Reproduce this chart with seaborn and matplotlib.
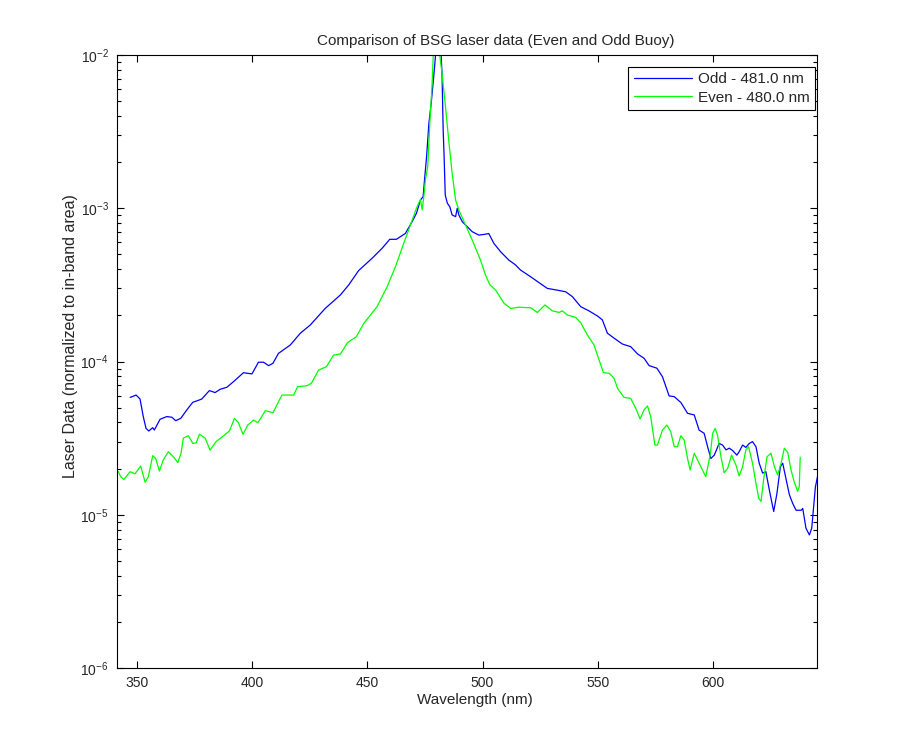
import matplotlib
matplotlib.use("Agg")
import matplotlib.pyplot as plt
import seaborn as sns
import pandas as pd
from matplotlib.ticker import LogLocator, LogFormatterMathtext, NullFormatter

# Odd buoy (481.0 nm) - wavelength (nm) and normalized laser data
odd_wl = [347.0, 349.6, 351.3, 352.7, 353.9, 355.1, 356.8, 357.5, 360.0, 362.9,
          365.1, 366.8, 369.0, 371.6, 374.2, 376.2, 378.1, 381.4, 383.9, 386.1,
          389.0, 392.2, 396.2, 399.9, 402.7, 404.9, 407.1, 409.0, 411.4, 416.5,
          420.9, 425.2, 431.7, 438.3, 441.9, 446.2, 452.0, 456.4, 459.7, 462.6,
          466.5, 469.4, 471.3, 473.0, 474.2, 474.8, 475.7, 476.7, 477.7, 478.8,
          479.6, 480.5, 481.3, 482.0, 482.4, 482.9, 483.3, 483.8, 484.7, 485.8,
          486.8, 488.3, 489.0, 489.7, 491.2, 493.3, 495.5, 498.4, 501.0, 502.7,
          504.9, 507.8, 511.4, 514.3, 516.5, 520.9, 524.5, 528.1, 532.5, 536.1,
          539.0, 542.6, 546.2, 549.9, 552.0, 554.2, 557.1, 560.7, 564.3, 567.3,
          570.1, 572.3, 575.7, 578.1, 581.0, 583.2, 586.1, 589.0, 591.9, 594.0,
          596.2, 597.7, 599.1, 600.6, 602.7, 604.2, 605.7, 607.1, 608.6, 610.4,
          611.4, 612.9, 614.3, 615.8, 617.2, 618.7, 620.1, 621.6, 623.0, 624.5,
          626.4, 627.8, 629.3, 630.3, 631.7, 633.2, 634.6, 636.1, 638.3, 639.0,
          640.4, 641.9, 642.9, 644.5, 645.5]
odd_val = [5.83e-5, 6.04e-5, 5.69e-5, 4.37e-5, 3.66e-5, 3.52e-5, 3.70e-5, 3.57e-5, 4.20e-5, 4.37e-5,
           4.33e-5, 4.11e-5, 4.26e-5, 4.83e-5, 5.42e-5, 5.55e-5, 5.69e-5, 6.46e-5, 6.27e-5, 6.59e-5,
           6.79e-5, 7.46e-5, 8.45e-5, 8.30e-5, 9.89e-5, 9.89e-5, 9.40e-5, 9.73e-5, 1.13e-4, 1.28e-4,
           1.53e-4, 1.73e-4, 2.22e-4, 2.72e-4, 3.16e-4, 3.92e-4, 4.71e-4, 5.48e-4, 6.27e-4, 6.27e-4,
           6.85e-4, 8.17e-4, 9.27e-4, 1.13e-3, 1.19e-3, 1.53e-3, 2.17e-3, 3.58e-3, 4.84e-3, 7.23e-3,
           1.0e-2, 3.0e-2, 3.0e-2, 1.0e-2, 7.59e-3, 3.24e-3, 2.2e-3, 1.22e-3, 1.08e-3, 1.02e-3,
           9.04e-4, 8.81e-4, 1.0e-3, 9.04e-4, 8.17e-4, 7.59e-4, 7.03e-4, 6.68e-4, 6.76e-4, 6.84e-4,
           5.90e-4, 5.21e-4, 4.59e-4, 4.27e-4, 3.95e-4, 3.57e-4, 3.27e-4, 3.00e-4, 2.92e-4, 2.85e-4,
           2.65e-4, 2.28e-4, 2.14e-4, 1.98e-4, 1.87e-4, 1.53e-4, 1.42e-4, 1.30e-4, 1.25e-4, 1.12e-4,
           1.05e-4, 9.40e-5, 9.04e-5, 7.96e-5, 5.96e-5, 5.90e-5, 5.40e-5, 4.59e-5, 4.48e-5, 3.57e-5,
           3.40e-5, 2.78e-5, 2.33e-5, 2.45e-5, 2.92e-5, 2.85e-5, 2.65e-5, 2.72e-5, 2.62e-5, 2.45e-5,
           2.58e-5, 2.85e-5, 2.75e-5, 2.92e-5, 3.00e-5, 2.78e-5, 2.17e-5, 1.87e-5, 1.91e-5, 1.45e-5,
           1.05e-5, 1.38e-5, 2.06e-5, 2.17e-5, 1.73e-5, 1.35e-5, 1.19e-5, 1.07e-5, 1.07e-5, 1.10e-5,
           8.17e-6, 7.38e-6, 8.17e-6, 1.52e-5, 1.8e-5]

# Even buoy (480.0 nm)
even_wl = [341.0, 341.9, 342.9, 344.3, 347.0, 349.1, 351.6, 353.5, 354.9, 356.8,
           358.1, 359.7, 361.4, 363.6, 365.8, 367.7, 369.1, 370.1, 372.3, 374.2,
           375.7, 377.1, 379.6, 381.7, 384.3, 387.5, 390.1, 392.3, 394.0, 396.0,
           398.1, 400.6, 402.5, 405.7, 409.0, 412.9, 415.8, 418.0, 419.7, 423.8,
           425.7, 428.8, 432.2, 435.3, 438.3, 441.4, 445.2, 448.4, 454.2, 458.6,
           462.2, 465.5, 468.7, 471.3, 472.3, 473.0, 473.8, 474.5, 475.2, 476.2,
           477.1, 478.1, 478.6, 479.5, 480.5, 481.4, 482.4, 483.9, 485.3, 486.8,
           488.3, 489.7, 492.6, 495.5, 499.1, 501.3, 503.2, 505.7, 509.3, 512.2,
           515.8, 520.9, 523.8, 527.1, 530.3, 533.2, 534.7, 536.8, 540.4, 542.6,
           545.5, 548.4, 550.6, 552.5, 555.0, 557.1, 558.6, 561.4, 564.3, 566.5,
           568.4, 570.1, 571.6, 573.0, 574.8, 575.9, 578.1, 580.0, 581.7, 583.2,
           584.6, 586.1, 587.5, 589.0, 590.1, 591.9, 594.0, 596.9, 598.8, 599.9,
           601.0, 602.0, 603.5, 604.9, 606.4, 608.1, 610.0, 611.4, 612.9, 614.3,
           615.5, 617.2, 618.7, 619.9, 620.9, 622.0, 623.5, 625.2, 626.7, 628.1,
           629.6, 631.0, 632.5, 633.9, 635.3, 636.8, 637.5, 637.9]
even_val = [1.95e-5, 1.91e-5, 1.77e-5, 1.70e-5, 1.91e-5, 1.85e-5, 2.08e-5, 1.63e-5, 1.77e-5, 2.43e-5,
            2.33e-5, 1.93e-5, 2.28e-5, 2.58e-5, 2.39e-5, 2.19e-5, 2.52e-5, 3.16e-5, 3.28e-5, 2.92e-5,
            2.95e-5, 3.35e-5, 3.16e-5, 2.64e-5, 3.00e-5, 3.27e-5, 3.52e-5, 4.26e-5, 3.99e-5, 3.35e-5,
            3.85e-5, 4.15e-5, 3.99e-5, 4.78e-5, 4.63e-5, 6.04e-5, 6.04e-5, 6.04e-5, 6.85e-5, 6.95e-5,
            7.21e-5, 8.79e-5, 9.25e-5, 1.10e-4, 1.12e-4, 1.33e-4, 1.45e-4, 1.77e-4, 2.28e-4, 3.08e-4,
            4.16e-4, 5.75e-4, 7.78e-4, 1.0e-3, 1.08e-3, 1.14e-3, 9.75e-4, 1.19e-3, 1.53e-3, 1.87e-3,
            3.58e-3, 6.53e-3, 1.0e-2, 3.0e-2, 3.0e-2, 1.0e-2, 7.59e-3, 4.60e-3, 2.79e-3, 1.69e-3,
            1.13e-3, 9.75e-4, 7.78e-4, 6.21e-4, 4.59e-4, 3.66e-4, 3.16e-4, 2.92e-4, 2.40e-4, 2.22e-4,
            2.26e-4, 2.24e-4, 2.09e-4, 2.34e-4, 2.14e-4, 2.09e-4, 2.14e-4, 2.01e-4, 1.94e-4, 1.79e-4,
            1.49e-4, 1.28e-4, 1.02e-4, 8.45e-5, 8.38e-5, 7.76e-5, 6.68e-5, 5.83e-5, 5.75e-5, 4.95e-5,
            4.22e-5, 4.83e-5, 5.13e-5, 4.37e-5, 2.85e-5, 2.85e-5, 3.57e-5, 3.85e-5, 3.48e-5, 2.78e-5,
            2.78e-5, 3.28e-5, 3.08e-5, 2.33e-5, 1.96e-5, 2.52e-5, 2.17e-5, 1.77e-5, 2.45e-5, 3.40e-5,
            3.66e-5, 3.31e-5, 2.39e-5, 1.88e-5, 2.01e-5, 2.45e-5, 2.11e-5, 1.79e-5, 2.06e-5, 2.65e-5,
            2.78e-5, 2.17e-5, 1.60e-5, 1.28e-5, 1.22e-5, 1.69e-5, 2.39e-5, 2.52e-5, 2.06e-5, 1.82e-5,
            2.17e-5, 2.72e-5, 2.55e-5, 1.96e-5, 1.64e-5, 1.42e-5, 1.53e-5, 2.37e-5]

sns.set_style("white")
plt.rcParams['font.family'] = ['Liberation Sans', 'DejaVu Sans']
plt.rcParams['mathtext.default'] = 'regular'
plt.rcParams['axes.unicode_minus'] = False
plt.rcParams['font.size'] = 10

odd_df = pd.DataFrame({'wl': odd_wl, 'val': odd_val})
even_df = pd.DataFrame({'wl': even_wl, 'val': even_val})

fig = plt.figure(figsize=(9, 7.5), dpi=100)
ax = fig.add_axes([0.13, 0.1093, 0.7778, 0.8174])

sns.lineplot(data=odd_df, x='wl', y='val', ax=ax, color='#0000ff', lw=0.9,
             sort=False, estimator=None, label='Odd - 481.0 nm')
sns.lineplot(data=even_df, x='wl', y='val', ax=ax, color='#00ff00', lw=0.9,
             sort=False, estimator=None, label='Even - 480.0 nm')

ax.set_yscale('log')
ax.set_xlim(341.3, 645.2)
ax.set_ylim(1e-6, 1e-2)
ax.set_xticks([350, 400, 450, 500, 550, 600])
ax.yaxis.set_major_locator(LogLocator(base=10, numticks=10))
ax.yaxis.set_major_formatter(LogFormatterMathtext())
ax.yaxis.set_minor_locator(LogLocator(base=10, subs=range(2, 10), numticks=20))
ax.yaxis.set_minor_formatter(NullFormatter())

for s in ax.spines.values():
    s.set_color('black')
    s.set_linewidth(0.8)
ax.tick_params(which='both', direction='in', top=True, right=True,
               left=True, bottom=True, color='black', labelsize=10, width=0.8)
ax.tick_params(which='major', length=5, pad=6)
ax.tick_params(which='minor', length=3)

ax.set_xlabel('Wavelength (nm)', fontsize=11)
ax.xaxis.set_label_coords(0.511, -0.041, transform=ax.transAxes)
ax.set_ylabel('Laser Data (normalized to in-band area)', fontsize=11.5)
ax.yaxis.set_label_coords(-0.055, 0.5416, transform=ax.transAxes)
ax.set_title('Comparison of BSG laser data (Even and Odd Buoy)', fontsize=11, pad=7, x=0.541)

leg = ax.legend(loc='upper right', bbox_to_anchor=(0.997, 0.981), borderaxespad=0,
                fancybox=False, framealpha=1, edgecolor='black', handlelength=3.8,
                fontsize=11, borderpad=0.35, labelspacing=0.3, handletextpad=0.4)
leg.get_frame().set_linewidth(0.8)

fig.savefig('out.png', dpi=100, facecolor='white')
